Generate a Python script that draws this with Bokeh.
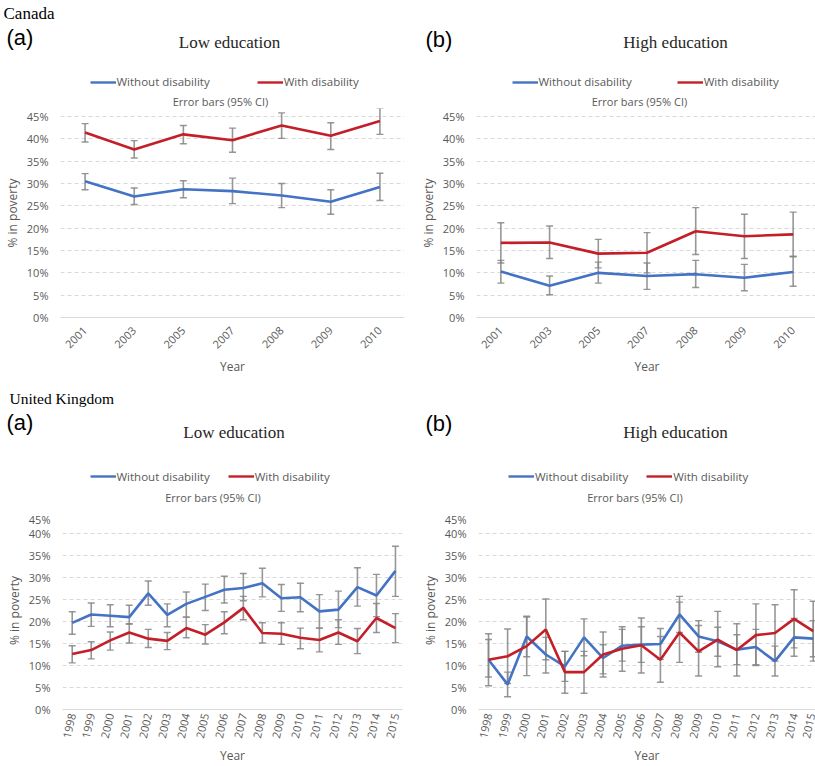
import math
from bokeh.plotting import figure
from bokeh.models import (FactorRange, Range1d, FixedTicker, Legend, LegendItem,
                          PrintfTickFormatter, ColumnDataSource)
from bokeh.core.properties import value
from bokeh.layouts import column, row
from bokeh.embed import file_html
from bokeh.resources import INLINE

# ---------------- data ----------------
ca_years = ["2001", "2003", "2005", "2007", "2008", "2009", "2010"]

ca_low_without = [30.5, 27.1, 28.7, 28.3, 27.3, 25.9, 29.2]
ca_low_without_lo = [28.6, 25.3, 26.8, 25.5, 24.6, 23.1, 26.2]
ca_low_without_hi = [32.2, 29.0, 30.6, 31.2, 30.0, 28.6, 32.3]
ca_low_with = [41.4, 37.6, 41.0, 39.7, 43.0, 40.7, 44.0]
ca_low_with_lo = [39.3, 35.7, 38.9, 37.0, 40.1, 37.6, 41.0]
ca_low_with_hi = [43.4, 39.6, 43.0, 42.4, 45.8, 43.6, 46.9]

ca_high_without = [10.3, 7.1, 10.0, 9.3, 9.7, 8.9, 10.2]
ca_high_without_lo = [7.7, 5.1, 7.7, 6.3, 6.7, 6.0, 7.0]
ca_high_without_hi = [12.8, 9.3, 12.4, 12.2, 12.8, 11.9, 13.7]
ca_high_with = [16.7, 16.8, 14.3, 14.5, 19.3, 18.2, 18.6]
ca_high_with_lo = [12.2, 13.2, 11.1, 10.0, 14.1, 13.2, 13.6]
ca_high_with_hi = [21.2, 20.5, 17.5, 19.0, 24.6, 23.1, 23.6]

uk_years = [1998, 1999, 2000, 2001, 2002, 2003, 2004, 2005, 2006,
            2007, 2008, 2009, 2010, 2011, 2012, 2013, 2014, 2015]

uk_low_without = [19.7, 21.6, 21.3, 21.0, 26.4, 21.5, 24.0, 25.6, 27.2,
                  27.6, 28.7, 25.3, 25.5, 22.3, 22.7, 27.8, 25.9, 31.5]
uk_low_without_lo = [17.1, 18.9, 18.8, 19.4, 23.7, 18.8, 21.0, 22.5, 24.2,
                     24.7, 25.6, 22.3, 22.2, 18.5, 18.6, 23.5, 21.1, 25.7]
uk_low_without_hi = [22.2, 24.2, 23.8, 23.7, 29.2, 24.0, 26.7, 28.5, 30.3,
                     30.9, 32.1, 28.4, 28.7, 26.1, 26.9, 32.2, 30.7, 37.1]
uk_low_with = [12.6, 13.5, 15.7, 17.5, 16.1, 15.6, 18.5, 17.0, 19.8,
               23.1, 17.4, 17.2, 16.3, 15.8, 17.5, 15.5, 20.8, 18.5]
uk_low_with_lo = [10.6, 11.5, 13.5, 15.1, 14.1, 13.6, 16.3, 14.9, 17.2,
                  20.4, 15.1, 14.8, 13.8, 13.1, 14.8, 12.7, 17.5, 15.2]
uk_low_with_hi = [14.5, 15.4, 17.6, 19.5, 18.2, 17.5, 21.0, 19.3, 22.2,
                  25.7, 19.7, 19.7, 18.5, 18.5, 20.4, 18.4, 24.1, 21.8]

uk_high_without = [11.3, 5.7, 16.6, 12.5, 9.8, 16.4, 11.7, 14.5, 14.75,
                   14.9, 21.6, 16.6, 15.5, 13.6, 14.2, 11.0, 16.4, 16.1]
uk_high_without_lo = [5.4, 2.9, 12.0, 8.3, 6.4, 12.2, 8.1, 11.0, 10.7,
                      11.4, 17.5, 13.0, 12.1, 10.2, 10.2, 7.6, 12.1, 12.0]
uk_high_without_hi = [17.2, 8.5, 21.2, 16.4, 13.2, 20.6, 14.7, 18.2, 18.8,
                      18.4, 25.7, 20.2, 18.7, 17.0, 18.2, 14.4, 20.7, 20.2]
uk_high_with = [11.3, 12.1, 14.4, 18.2, 8.5, 8.5, 12.5, 13.8, 14.6,
                11.3, 17.5, 13.2, 15.9, 13.5, 16.9, 17.4, 20.6, 17.8]
uk_high_with_lo = [7.4, 5.9, 7.7, 11.3, 3.7, 3.7, 7.4, 8.7, 8.3,
                   6.2, 10.7, 7.6, 9.7, 7.6, 10.0, 11.0, 14.0, 11.0]
uk_high_with_hi = [15.9, 18.3, 21.0, 25.1, 13.2, 13.2, 17.6, 18.8, 20.8,
                   16.6, 24.4, 19.1, 22.3, 19.5, 24.0, 23.8, 27.2, 24.6]

y_ticks = [0, 5, 10, 15, 20, 25, 30, 35, 40, 45]
legend_labels = ["Without disability", "With disability"]
note_text = "Error bars (95% CI)"

BLUE = "#4472C4"
RED = "#C41E28"
GRAY = "#858585"
TXT = "#595959"
SANS = "Open Sans"
SERIF = "Liberation Serif"


def header(height, texts, legends):
    h = figure(width=815, height=height, x_range=Range1d(0, 815),
               y_range=Range1d(height, 0), output_backend="svg",
               toolbar_location=None, min_border=0)
    h.axis.visible = False
    h.grid.visible = False
    h.outline_line_color = None
    for (txt, x, y, font, size, align, color) in texts:
        h.text(x=[x], y=[y], text=[txt], text_font=value(font), text_font_size=size,
               text_align=align, text_baseline="middle", text_color=color)
    # legend keys (same styling as the plotted series); single off-canvas point,
    # so nothing is drawn in the header itself
    kb = h.line(x=[-50], y=[-50], line_color=BLUE, line_width=2.4)
    kr = h.line(x=[-50], y=[-50], line_color=RED, line_width=2.4)
    for (lx, ly, sp) in legends:
        leg = Legend(items=[LegendItem(label=legend_labels[0], renderers=[kb]),
                            LegendItem(label=legend_labels[1], renderers=[kr])],
                     location=(lx, ly), orientation="horizontal",
                     border_line_color=None, background_fill_alpha=0,
                     padding=0, margin=0, spacing=sp,
                     glyph_width=26, glyph_height=14, label_height=14,
                     label_standoff=1, label_text_font=SANS,
                     label_text_font_size="11.5px", label_text_color=TXT)
        h.add_layout(leg, "center")
    return h


def panel(x, wo, wo_lo, wo_hi, wi, wi_lo, wi_hi, cfg):
    if cfg["cat"]:
        xr = FactorRange(factors=x)
    else:
        xr = Range1d(cfg["xstart"], cfg["xend"])
    p = figure(frame_width=cfg["fw"], frame_height=cfg["fh"], x_range=xr,
               y_range=Range1d(0, cfg["yend"]), output_backend="svg", toolbar_location=None,
               min_border_left=cfg["bl"], min_border_right=cfg["br"],
               min_border_top=0, min_border_bottom=cfg["bb"])
    p.outline_line_color = None
    p.xgrid.grid_line_color = None
    p.ygrid.ticker = FixedTicker(ticks=y_ticks)
    p.ygrid.grid_line_color = "#D9D9D9"
    p.ygrid.grid_line_dash = "4 3"
    p.ygrid.grid_line_width = 1

    p.yaxis.ticker = FixedTicker(ticks=y_ticks)
    p.yaxis.formatter = PrintfTickFormatter(format="%d%%")
    p.yaxis.axis_line_color = None
    p.yaxis.major_tick_line_color = None
    p.yaxis.major_tick_out = 0
    p.yaxis.minor_tick_line_color = None
    p.yaxis.minor_tick_out = 0
    p.yaxis.major_label_text_font = SANS
    p.yaxis.major_label_text_font_size = "11px"
    p.yaxis.major_label_text_color = TXT
    p.yaxis.major_label_standoff = 12
    p.yaxis.axis_label = "% in poverty"
    p.yaxis.axis_label_text_font = SANS
    p.yaxis.axis_label_text_font_size = "12px"
    p.yaxis.axis_label_text_font_style = "normal"
    p.yaxis.axis_label_text_color = TXT
    p.yaxis.axis_label_standoff = 3

    if not cfg["cat"]:
        p.xaxis.ticker = FixedTicker(ticks=x)
    p.xaxis.axis_line_color = "#D9D9D9"
    p.xaxis.major_tick_line_color = None
    p.xaxis.major_tick_out = 0
    p.xaxis.minor_tick_line_color = None
    p.xaxis.minor_tick_out = 0
    p.xaxis.major_label_orientation = cfg["rot"]
    p.xaxis.major_label_text_font = SANS
    p.xaxis.major_label_text_font_size = "11px"
    p.xaxis.major_label_text_color = TXT
    p.xaxis.major_label_standoff = cfg["xstand"]
    p.xaxis.axis_label = "Year"
    p.xaxis.axis_label_text_font = SANS
    p.xaxis.axis_label_text_font_size = "12px"
    p.xaxis.axis_label_text_font_style = "normal"
    p.xaxis.axis_label_text_color = TXT
    p.xaxis.axis_label_standoff = cfg["ystand"]

    src = ColumnDataSource(dict(x=x, wo=wo, wo_lo=wo_lo, wo_hi=wo_hi,
                                wi=wi, wi_lo=wi_lo, wi_hi=wi_hi))
    # error bars (drawn first, under the lines)
    for lo, hi in (("wo_lo", "wo_hi"), ("wi_lo", "wi_hi")):
        p.segment(x0="x", y0=lo, x1="x", y1=hi, source=src,
                  line_color=GRAY, line_width=1.6, line_alpha=0.85)
        p.scatter(x="x", y=lo, source=src, marker="dash", size=7,
                  line_color=GRAY, line_width=1.4, line_alpha=0.85)
        p.scatter(x="x", y=hi, source=src, marker="dash", size=7,
                  line_color=GRAY, line_width=1.4, line_alpha=0.85)
    p.line(x="x", y="wo", source=src, line_color=BLUE, line_width=2.6)
    p.line(x="x", y="wi", source=src, line_color=RED, line_width=2.6)
    return p


hdr_top = header(108, [
    ("Canada", 3, 12.5, SERIF, "17px", "left", "#000000"),
    ("(a)", 6, 36.5, "Liberation Sans", "22px", "left", "#000000"),
    ("Low education", 229, 42, SERIF, "17px", "center", "#262626"),
    ("(b)", 425, 38.5, "Liberation Sans", "22px", "left", "#000000"),
    ("High education", 675, 42, SERIF, "17px", "center", "#262626"),
    (note_text, 220, 101, SANS, "11px", "center", TXT),
    (note_text, 639, 101, SANS, "11px", "center", TXT),
], [(89.5, 19, 47), (511.5, 19, 45)])

tl = panel(ca_years, ca_low_without, ca_low_without_lo, ca_low_without_hi,
           ca_low_with, ca_low_with_lo, ca_low_with_hi,
           dict(cat=True, fw=344, fh=209, yend=46.79, bl=57, br=9, bb=61,
                rot=math.pi / 4, xstand=11, ystand=3))

tr = panel(ca_years, ca_high_without, ca_high_without_lo, ca_high_without_hi,
           ca_high_with, ca_high_with_lo, ca_high_with_hi,
           dict(cat=True, fw=341, fh=209, yend=46.79, bl=63, br=1, bb=61,
                rot=math.pi / 4, xstand=11, ystand=3))

hdr_bot = header(133, [
    ("United Kingdom", 9, 19.5, SERIF, "15.5px", "left", "#000000"),
    ("(a)", 6, 43.5, "Liberation Sans", "22px", "left", "#000000"),
    ("Low education", 233.5, 54, SERIF, "17px", "center", "#262626"),
    ("(b)", 425, 44.5, "Liberation Sans", "22px", "left", "#000000"),
    ("High education", 675, 54, SERIF, "17px", "center", "#262626"),
    (note_text, 212.5, 119.3, SANS, "11px", "center", TXT),
    (note_text, 634.5, 119.3, SANS, "11px", "center", TXT),
], [(89.5, 27.3, 18), (508, 27.3, 18)])

bl = panel(uk_years, uk_low_without, uk_low_without_lo, uk_low_without_hi,
           uk_low_with, uk_low_with_lo, uk_low_with_hi,
           dict(cat=False, xstart=1997.49, xend=2015.37, fw=340, fh=198, yend=45,
                bl=62, br=8, bb=57, rot=1.35, xstand=4, ystand=4))

br = panel(uk_years, uk_high_without, uk_high_without_lo, uk_high_without_hi,
           uk_high_with, uk_high_with_lo, uk_high_with_hi,
           dict(cat=False, xstart=1997.476, xend=2015.12, fw=337, fh=198, yend=45,
                bl=68, br=0, bb=57, rot=1.35, xstand=4, ystand=4))

layout = column(hdr_top, row(tl, tr), hdr_bot, row(bl, br))
open("out.html", "w").write(file_html(layout, INLINE))
